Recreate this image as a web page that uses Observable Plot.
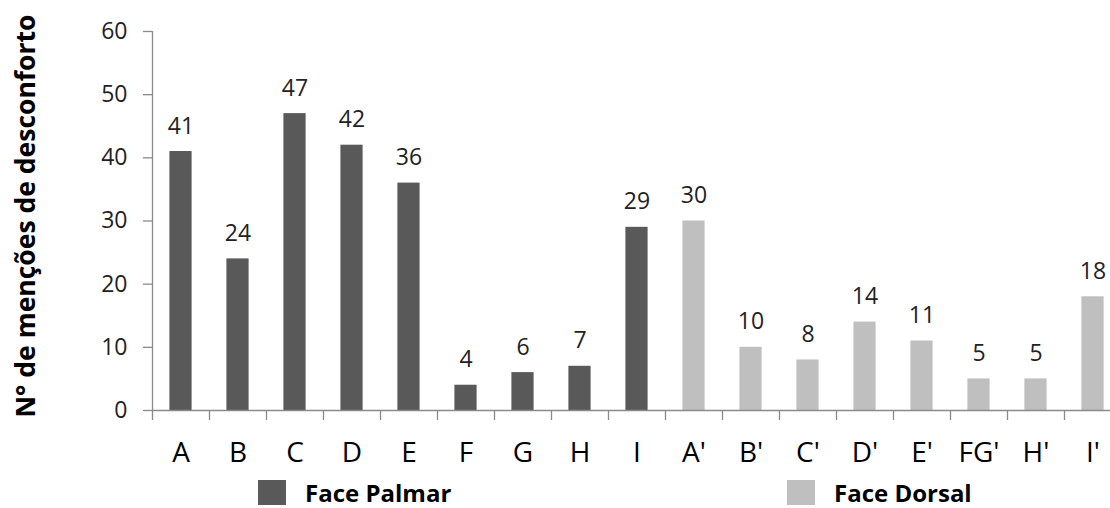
<!DOCTYPE html>
<html>
<head>
<meta charset="utf-8">
<script src="https://cdn.jsdelivr.net/npm/d3@7"></script>
<script src="https://cdn.jsdelivr.net/npm/@observablehq/plot@0.6"></script>
<style>
  body { margin: 0; background: #fff; }
  #chart { position: relative; width: 1110px; height: 508px; overflow: hidden; font-family: "Open Sans", sans-serif; }
  #chart svg { display: block; }
  .legend-item { position: absolute; display: flex; align-items: center; }
  .legend-item .swatch { width: 28px; height: 25px; }
  .legend-item .name { font-size: 24px; font-weight: bold; color: #000; margin-left: 19px; line-height: 25px; }
</style>
</head>
<body>
<div id="chart"></div>
<script>
// Regions of the hand and number of discomfort mentions for each
const categories = ["A", "B", "C", "D", "E", "F", "G", "H", "I", "A'", "B'", "C'", "D'", "E'", "FG'", "H'", "I'"];
const values = [41, 24, 47, 42, 36, 4, 6, 7, 29, 30, 10, 8, 14, 11, 5, 5, 18];
const faces = [
  "Face Palmar", "Face Palmar", "Face Palmar", "Face Palmar", "Face Palmar",
  "Face Palmar", "Face Palmar", "Face Palmar", "Face Palmar",
  "Face Dorsal", "Face Dorsal", "Face Dorsal", "Face Dorsal",
  "Face Dorsal", "Face Dorsal", "Face Dorsal", "Face Dorsal"
];
const faceNames = ["Face Palmar", "Face Dorsal"];
const faceColors = ["#595959", "#bfbfbf"];
const yTicks = [0, 10, 20, 30, 40, 50, 60];
const yTitle = "N° de menções de desconforto";

const data = categories.map((category, i) => ({category, value: values[i], face: faces[i]}));

const left = 152;
const step = 57;
const axisColor = "#8a8a8a";
const textColor = "#222";

const plot = Plot.plot({
  width: 1110,
  height: 478,
  marginTop: 31,
  marginBottom: 68,
  marginLeft: left,
  marginRight: 0,
  style: {fontFamily: "'Open Sans', sans-serif", background: "#fff", overflow: "visible"},
  x: {domain: categories, range: [left, left + step * categories.length], padding: 0},
  y: {domain: [0, 60], range: [410, 31]},
  color: {domain: faceNames, range: faceColors},
  marks: [
    Plot.barY(data, {x: "category", y: "value", fill: "face", insetLeft: 17.4, insetRight: 17.4}),
    Plot.text(data, {
      x: "category", y: "value", text: d => String(d.value),
      lineAnchor: "bottom", dy: -18, fontSize: 23, fill: textColor
    }),
    // axis lines
    Plot.ruleY([0], {stroke: axisColor, strokeWidth: 1.3}),
    Plot.ruleX([categories[0]], {dx: -step / 2, y1: 0, y2: 60, stroke: axisColor, strokeWidth: 1.3}),
    // y axis ticks and labels
    Plot.axisY({
      ticks: yTicks, tickSize: 9, tickPadding: 16, fontSize: 23,
      stroke: axisColor, strokeWidth: 1.3, fill: textColor, label: null
    }),
    // x tick marks between categories
    Plot.axisX({
      tickSize: 10, tickFormat: () => "", dx: -step / 2,
      stroke: axisColor, strokeWidth: 1.3, label: null
    }),
    // category labels
    Plot.axisX({
      tickSize: 0, tickPadding: 32, fontSize: 28, fill: "#000", label: null
    }),
    // y title
    Plot.text([yTitle], {
      frameAnchor: "left", textAnchor: "middle", lineAnchor: "middle",
      dx: -126, dy: -5, rotate: -90,
      fontSize: 26.5, fontWeight: "bold", fill: "#000"
    })
  ]
});

const chart = document.getElementById("chart");
chart.appendChild(plot);

// Legend below the plot
const legendPos = [{left: 258, top: 480}, {left: 787, top: 480}];
faceNames.forEach((name, i) => {
  const item = document.createElement("div");
  item.className = "legend-item";
  item.style.left = legendPos[i].left + "px";
  item.style.top = legendPos[i].top + "px";
  const sw = document.createElement("div");
  sw.className = "swatch";
  sw.style.background = faceColors[i];
  const label = document.createElement("div");
  label.className = "name";
  label.textContent = name;
  item.appendChild(sw);
  item.appendChild(label);
  chart.appendChild(item);
});
</script>
</body>
</html>
